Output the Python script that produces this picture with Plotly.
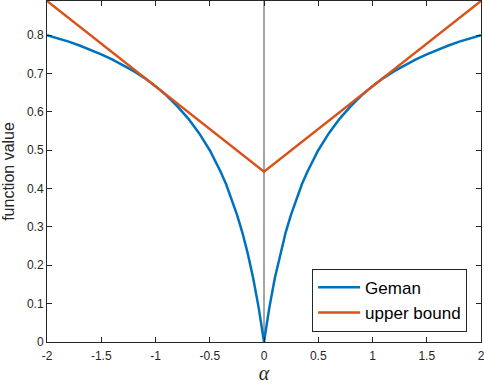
import plotly.graph_objects as go

# values
alpha = [-2.0, -1.9, -1.8, -1.7, -1.6, -1.5, -1.4, -1.3, -1.2, -1.1, -1.0,
         -0.9, -0.8, -0.7, -0.6, -0.5, -0.45, -0.4, -0.35, -0.3, -0.25,
         -0.2, -0.15, -0.1, -0.05, 0.0,
         0.05, 0.1, 0.15, 0.2, 0.25, 0.3, 0.35, 0.4, 0.45, 0.5,
         0.6, 0.7, 0.8, 0.9, 1.0, 1.1, 1.2, 1.3, 1.4, 1.5, 1.6, 1.7, 1.8, 1.9, 2.0]
geman = [0.800, 0.792, 0.783, 0.773, 0.762, 0.750, 0.737, 0.722, 0.706, 0.688, 0.667,
         0.643, 0.615, 0.583, 0.545, 0.500, 0.474, 0.444, 0.412, 0.375, 0.333,
         0.286, 0.231, 0.167, 0.091, 0.000,
         0.091, 0.167, 0.231, 0.286, 0.333, 0.375, 0.412, 0.444, 0.474, 0.500,
         0.545, 0.583, 0.615, 0.643, 0.667, 0.688, 0.706, 0.722, 0.737, 0.750,
         0.762, 0.773, 0.783, 0.792, 0.800]

bound_alpha = [-2.0, 0.0, 2.0]
bound_value = [0.889, 0.444, 0.889]

x_ticks = [-2, -1.5, -1, -0.5, 0, 0.5, 1, 1.5, 2]
y_ticks = [0, 0.1, 0.2, 0.3, 0.4, 0.5, 0.6, 0.7, 0.8]
y_top = 0.889

fig = go.Figure()

# vertical line at alpha = 0
fig.add_trace(go.Scatter(x=[0, 0], y=[0, y_top], mode="lines",
                         line=dict(color="#4d4d4d", width=1), showlegend=False,
                         hoverinfo="skip"))
fig.add_trace(go.Scatter(x=alpha, y=geman, mode="lines", name="Geman",
                         line=dict(color="#0072BD", width=2.5)))
fig.add_trace(go.Scatter(x=bound_alpha, y=bound_value, mode="lines", name="upper bound",
                         line=dict(color="#D95319", width=2.5)))

axis_style = dict(showgrid=False, zeroline=False, showline=True, linecolor="#262626",
                  linewidth=1, mirror="ticks", ticks="inside", ticklen=5,
                  tickcolor="#262626", tickfont=dict(size=12, color="#262626"),
                  automargin=False, ticklabeloverflow="allow")

fig.update_xaxes(range=[-2, 2], tickvals=x_ticks,
                 ticktext=[f"{v:g}" for v in x_ticks], ticklabelstandoff=3,
                 title=dict(text="<i>α</i>", font=dict(size=20, color="#262626",
                                                       family="Liberation Serif"),
                            standoff=9),
                 **axis_style)
fig.update_yaxes(range=[0, y_top], tickvals=y_ticks,
                 ticktext=[f"{v:g}" for v in y_ticks],
                 title=dict(text="function value", font=dict(size=16, color="#262626"),
                            standoff=8),
                 **axis_style)

fig.update_layout(
    width=484, height=384,
    margin=dict(l=47, r=3, t=1, b=42),
    plot_bgcolor="white", paper_bgcolor="white",
    font=dict(family="Liberation Sans, Arial, sans-serif"),
    legend=dict(x=0.968, y=0.03, xanchor="right", yanchor="bottom",
                bgcolor="white", bordercolor="#262626", borderwidth=1,
                font=dict(size=17, color="#000000"), tracegroupgap=0,
                itemwidth=42),
)

fig.write_html("out.html", config={"displayModeBar": False},
               post_script="document.body.style.margin='0';")
